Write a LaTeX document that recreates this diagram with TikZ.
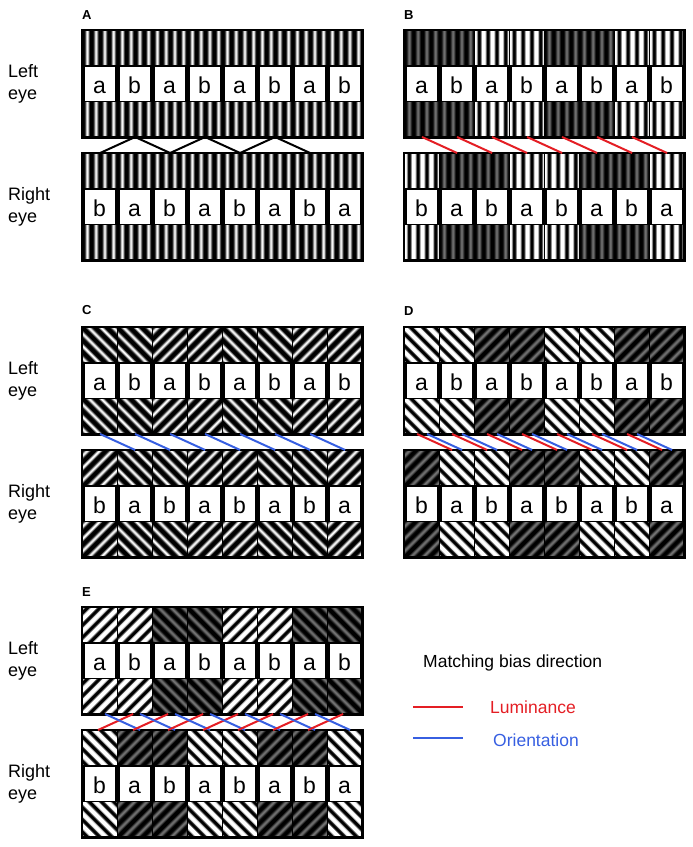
\documentclass[tikz,border=0pt]{standalone}
\usepackage{fontspec}
\setmainfont{Liberation Sans}
\usepackage{xcolor}

\definecolor{lumred}{RGB}{228,30,36}
\definecolor{oriblue}{RGB}{55,95,225}
\definecolor{bargray}{gray}{0.45}

% one grating period (12.5bp) repeated over the whole 100bp shading
\newcommand{\makegrating}[3]{%
  \gdef\gratlist{}%
  \foreach \k in {0,...,7}{%
    \foreach \gpos/\gcol in {#2}{%
      \pgfmathsetmacro\gq{12.5*\k+\gpos}%
      \xdef\gratlist{\gratlist color(\gq bp)=(\gcol); }%
    }%
  }%
  \edef\gnext{\noexpand\pgfdeclarehorizontalshading{#1}{100bp}{\gratlist color(100bp)=(#3)}}%
  \gnext}

\makegrating{gratfull}{0/black,2.6/black,5.6/white,6.9/white,9.9/black}{black}
\makegrating{gratlight}{0/white,2.6/white,4.4/black,8.1/black,9.9/white}{white}
\makegrating{gratdark}{0/black,2.2/black,5.6/bargray,6.9/bargray,10.3/black}{black}

\tikzset{
  block/.style={fill=black,minimum width=280pt,minimum height=107pt,inner sep=0pt,anchor=north west},
  cell/.style={draw=black,line width=1.2pt,minimum width=35pt,minimum height=35pt,inner sep=0pt},
  letterbox/.style={draw=black,line width=0.8pt,fill=white,minimum width=31pt,minimum height=35pt,
    inner sep=0pt,text height=20pt,text depth=0pt,font=\fontsize{23}{23}\selectfont},
  hiv/.style={shading=gratfull,shading angle=0},
  hil/.style={shading=gratfull,shading angle=45},
  hir/.style={shading=gratfull,shading angle=-45},
  ltv/.style={shading=gratlight,shading angle=0},
  ltl/.style={shading=gratlight,shading angle=45},
  ltr/.style={shading=gratlight,shading angle=-45},
  dkv/.style={shading=gratdark,shading angle=0},
  dkl/.style={shading=gratdark,shading angle=45},
  dkr/.style={shading=gratdark,shading angle=-45},
  match/.style={draw=black,line width=2pt},
  lum/.style={draw=lumred,line width=2pt},
  ori/.style={draw=oriblue,line width=2pt},
  eyelabel/.style={anchor=west,align=left,inner sep=0pt,font=\fontsize{18}{22}\selectfont},
  panel/.style={anchor=west,inner sep=0pt,font=\fontsize{13}{13}\selectfont\bfseries}
}

% #1 name, #2 left, #3 top, #4 gratings, #5 letters
\newcommand{\eyeblock}[5]{%
  \node[block] (#1) at (#2,#3) {};
  \foreach \g [count=\i] in {#4}{
    \node[cell,\g,anchor=north west] (#1t-\i) at ({#2+35*(\i-1)},#3) {};
    \node[cell,\g,anchor=south west] (#1b-\i) at ({#2+35*(\i-1)},{#3+107}) {};
  }
  \foreach \c [count=\i] in {#5}{
    \node[letterbox] (#1m-\i) at ({#2+35*\i-17.5},{#3+53.5}) {\c};
  }
  \draw[line width=2.4pt] (#1.north west) rectangle (#1.south east);
}

\begin{document}
\begin{tikzpicture}[x=1pt,y=-1pt]
\useasboundingbox (0,0) rectangle (693,847);

% panel labels
\node[panel] (lab-A) at (82,15) {A};
\node[panel] (lab-B) at (404,15) {B};
\node[panel] (lab-C) at (82,310) {C};
\node[panel] (lab-D) at (404,311) {D};
\node[panel] (lab-E) at (82,592) {E};

% eye labels
\node[eyelabel] (eye-l1) at (8,84) {Left\\eye};
\node[eyelabel] (eye-r1) at (8,207) {Right\\eye};
\node[eyelabel] (eye-l2) at (8,381) {Left\\eye};
\node[eyelabel] (eye-r2) at (8,504) {Right\\eye};
\node[eyelabel] (eye-l3) at (8,661) {Left\\eye};
\node[eyelabel] (eye-r3) at (8,784) {Right\\eye};

% A
\eyeblock{A-l}{82}{30}{hiv,hiv,hiv,hiv,hiv,hiv,hiv,hiv}{a,b,a,b,a,b,a,b}
\eyeblock{A-r}{82}{153}{hiv,hiv,hiv,hiv,hiv,hiv,hiv,hiv}{b,a,b,a,b,a,b,a}
\foreach \i/\j in {2/1,2/3,4/3,4/5,6/5,6/7}
  \draw[match] (A-lb-\i.south) -- (A-rt-\j.north);

% B
\eyeblock{B-l}{404}{30}{dkv,dkv,ltv,ltv,dkv,dkv,ltv,ltv}{a,b,a,b,a,b,a,b}
\eyeblock{B-r}{404}{153}{ltv,dkv,dkv,ltv,ltv,dkv,dkv,ltv}{b,a,b,a,b,a,b,a}
\foreach \i [evaluate=\i as \j using int(\i+1)] in {1,...,7}
  \draw[lum] (B-lb-\i.south) -- (B-rt-\j.north);

% C
\eyeblock{C-l}{82}{327}{hil,hil,hir,hir,hil,hil,hir,hir}{a,b,a,b,a,b,a,b}
\eyeblock{C-r}{82}{450}{hir,hil,hil,hir,hir,hil,hil,hir}{b,a,b,a,b,a,b,a}
\foreach \i [evaluate=\i as \j using int(\i+1)] in {1,...,7}
  \draw[ori] (C-lb-\i.south) -- (C-rt-\j.north);

% D
\eyeblock{D-l}{404}{327}{ltl,ltl,dkr,dkr,ltl,ltl,dkr,dkr}{a,b,a,b,a,b,a,b}
\eyeblock{D-r}{404}{450}{dkr,ltl,ltl,dkr,dkr,ltl,ltl,dkr}{b,a,b,a,b,a,b,a}
\foreach \i [evaluate=\i as \j using int(\i+1)] in {1,...,7}{
  \draw[lum] ([xshift=-5pt]D-lb-\i.south) -- ([xshift=-5pt]D-rt-\j.north);
  \draw[ori] ([xshift=5pt]D-lb-\i.south) -- ([xshift=5pt]D-rt-\j.north);
}

% E
\eyeblock{E-l}{82}{607}{ltr,ltr,dkl,dkl,ltr,ltr,dkl,dkl}{a,b,a,b,a,b,a,b}
\eyeblock{E-r}{82}{730}{ltl,dkr,dkr,ltl,ltl,dkr,dkr,ltl}{b,a,b,a,b,a,b,a}
\foreach \i [evaluate=\i as \j using int(\i+1)] in {1,...,7}{
  \draw[lum] ([xshift=-2pt]E-rt-\i.north) -- ([xshift=-2pt]E-lb-\j.south);
  \draw[ori] ([xshift=5pt]E-lb-\i.south) -- ([xshift=5pt]E-rt-\j.north);
}

% legend
\node[anchor=west,inner sep=0pt,font=\fontsize{17.5}{20}\selectfont] (leg) at (423,663) {Matching bias direction};
\coordinate (lum-a) at (413,707);
\coordinate (lum-b) at (463,707);
\draw[lum,line width=2.5pt] (lum-a) -- (lum-b);
\node[anchor=west,inner sep=0pt,text=lumred,font=\fontsize{17.5}{20}\selectfont] (lum-t) at (490,707) {Luminance};
\coordinate (ori-a) at (413,738);
\coordinate (ori-b) at (463,738);
\draw[ori,line width=2.5pt] (ori-a) -- (ori-b);
\node[anchor=west,inner sep=0pt,text=oriblue,font=\fontsize{17.5}{20}\selectfont] (ori-t) at (493,740) {Orientation};

\end{tikzpicture}
\end{document}
